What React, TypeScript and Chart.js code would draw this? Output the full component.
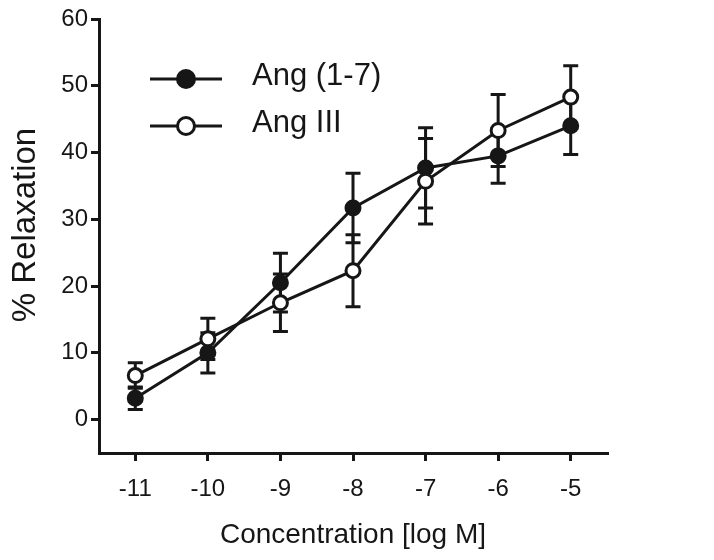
import React, { useEffect, useRef } from "react";
import { Chart, registerables } from "chart.js";

Chart.register(...registerables);

// ---- data ----
const concentrations = [-11, -10, -9, -8, -7, -6, -5];
const ang17Mean = [3.2, 10.0, 20.5, 31.7, 37.7, 39.5, 44.0];
const ang17Err = [1.7, 3.0, 4.4, 5.2, 6.0, 4.1, 4.3];
const angIIIMean = [6.6, 12.1, 17.5, 22.3, 35.7, 43.3, 48.3];
const angIIIErr = [1.9, 3.1, 4.3, 5.4, 6.4, 5.4, 4.7];
const xTicks = [-11, -10, -9, -8, -7, -6, -5];
const yTicks = [0, 10, 20, 30, 40, 50, 60];
const seriesLabels = ["Ang (1-7)", "Ang III"];
const xTitle = "Concentration [log M]";
const yTitle = "% Relaxation";

const INK = "#161616";
const FONT = "'Liberation Sans', Arial, sans-serif";

const errorSets = [ang17Err, angIIIErr];

const errorBarPlugin = {
  id: "errorBars",
  beforeDatasetsDraw(chart: any) {
    const { ctx } = chart;
    const xs = chart.scales.x;
    const ys = chart.scales.y;
    ctx.save();
    ctx.strokeStyle = INK;
    ctx.lineWidth = 3;
    ctx.lineCap = "butt";
    chart.data.datasets.forEach((ds: any, i: number) => {
      const errs = errorSets[i];
      ds.data.forEach((p: any, j: number) => {
        const px = xs.getPixelForValue(p.x);
        const top = ys.getPixelForValue(p.y + errs[j]);
        const bot = ys.getPixelForValue(p.y - errs[j]);
        ctx.beginPath();
        ctx.moveTo(px, top);
        ctx.lineTo(px, bot);
        ctx.moveTo(px - 7.5, top);
        ctx.lineTo(px + 7.5, top);
        ctx.moveTo(px - 7.5, bot);
        ctx.lineTo(px + 7.5, bot);
        ctx.stroke();
      });
    });
    ctx.restore();
  },
};

const legendAndTitlePlugin = {
  id: "customLegend",
  afterDraw(chart: any) {
    const { ctx, chartArea } = chart;
    const x0 = chartArea.left + 51;
    const y0 = chartArea.top + 60;
    const rowGap = 47;
    ctx.save();
    chart.data.datasets.forEach((ds: any, i: number) => {
      const y = y0 + i * rowGap;
      ctx.strokeStyle = INK;
      ctx.lineWidth = 3;
      ctx.beginPath();
      ctx.moveTo(x0, y);
      ctx.lineTo(x0 + 72, y);
      ctx.stroke();
      ctx.beginPath();
      ctx.arc(x0 + 36, y, 8.5, 0, Math.PI * 2);
      ctx.fillStyle = ds.pointBackgroundColor;
      ctx.fill();
      ctx.stroke();
      ctx.fillStyle = INK;
      ctx.font = `31px ${FONT}`;
      ctx.textBaseline = "alphabetic";
      ctx.textAlign = "left";
      ctx.fillText(ds.label, x0 + 102, y + 6);
    });
    // y-axis title
    ctx.translate(35, 225);
    ctx.rotate(-Math.PI / 2);
    ctx.font = `33px ${FONT}`;
    ctx.textAlign = "center";
    ctx.textBaseline = "alphabetic";
    ctx.fillStyle = INK;
    ctx.fillText(yTitle, 0, 0);
    ctx.restore();
  },
};

export default function App() {
  const ref = useRef<HTMLCanvasElement | null>(null);

  useEffect(() => {
    if (!ref.current) return;
    const mk = (means: number[]) => concentrations.map((c, i) => ({ x: c, y: means[i] }));
    const chart = new Chart(ref.current, {
      type: "line",
      data: {
        datasets: [
          {
            label: seriesLabels[0],
            data: mk(ang17Mean),
            borderColor: INK,
            borderWidth: 3,
            pointRadius: 7,
            pointBorderWidth: 3,
            pointBackgroundColor: INK,
            pointBorderColor: INK,
            tension: 0,
            order: 2,
          },
          {
            label: seriesLabels[1],
            data: mk(angIIIMean),
            borderColor: INK,
            borderWidth: 3,
            pointRadius: 7,
            pointBorderWidth: 3,
            pointBackgroundColor: "#ffffff",
            pointBorderColor: INK,
            tension: 0,
            order: 1,
          },
        ] as any,
      },
      options: {
        responsive: false,
        animation: false,
        layout: { padding: { top: 19, right: 107, bottom: 0, left: 0 } },
        plugins: { legend: { display: false }, tooltip: { enabled: false } },
        scales: {
          x: {
            type: "linear",
            min: -11.5,
            max: -4.5,
            afterBuildTicks: (s: any) => {
              s.ticks = xTicks.map((v) => ({ value: v }));
            },
            afterFit: (s: any) => {
              s.height = 107;
            },
            ticks: {
              color: INK,
              font: { family: FONT, size: 24 },
              padding: 14,
              callback: (v: any) => String(v),
            },
            grid: {
              drawOnChartArea: false,
              drawTicks: true,
              tickLength: 8,
              lineWidth: 3,
              color: INK,
              tickColor: INK,
            },
            border: { display: true, color: INK, width: 3 },
            title: {
              display: true,
              text: xTitle,
              color: INK,
              font: { family: FONT, size: 28 },
              padding: { top: 8, bottom: 8 },
            },
          },
          y: {
            type: "linear",
            min: -5,
            max: 60,
            afterBuildTicks: (s: any) => {
              s.ticks = yTicks.map((v) => ({ value: v }));
            },
            afterFit: (s: any) => {
              s.width = 99;
            },
            ticks: {
              color: INK,
              font: { family: FONT, size: 24 },
              padding: 3,
            },
            grid: {
              drawOnChartArea: false,
              drawTicks: true,
              tickLength: 8,
              lineWidth: 3,
              color: INK,
              tickColor: INK,
            },
            border: { display: true, color: INK, width: 3 },
            title: { display: false },
          },
        },
      },
      plugins: [errorBarPlugin, legendAndTitlePlugin],
    });
    return () => chart.destroy();
  }, []);

  return (
    <div style={{ position: "absolute", left: 0, top: 0, width: 714, height: 560, background: "#fff" }}>
      <canvas ref={ref} width={714} height={560} />
    </div>
  );
}
